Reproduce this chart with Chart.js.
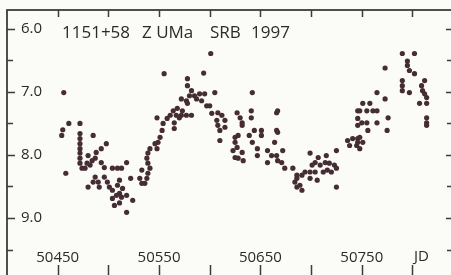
<!DOCTYPE html>
<html>
<head>
<meta charset="utf-8">
<script src="https://cdn.jsdelivr.net/npm/chart.js@4"></script>
<style>
  html, body { margin: 0; padding: 0; background: #fbfbf8; overflow: hidden; }
  canvas { display: block; }
</style>
</head>
<body>
<canvas id="lightCurve" width="456" height="284"></canvas>
<script>
// ---- data (JD, visual magnitude) ----
const titleParts = ["1151+58", "Z UMa", "SRB", "1997"];

const jd = [
  50456, 50461, 50472, 50455, 50454, 50472, 50472, 50472, 50472, 50472, 50472, 50472, 50474,
  50485, 50498, 50493, 50488, 50480, 50484, 50487, 50482, 50477, 50479, 50493, 50496, 50458,
  50504, 50487, 50490, 50485, 50480, 50491, 50496, 50499, 50501, 50504, 50508, 50504, 50506,
  50518, 50524, 50513, 50511, 50509, 50514, 50511, 50518, 50511, 50513, 50518, 50509,
  50522, 50531, 50533, 50533, 50536, 50538, 50539, 50541, 50539, 50538, 50539, 50541, 50548,
  50546, 50549, 50551, 50553, 50554, 50548, 50558, 50561, 50564, 50567, 50565, 50565, 50555,
  50601, 50594, 50578, 50578, 50582, 50580, 50572, 50577, 50585, 50590, 50595, 50605, 50587,
  50592, 50578, 50597, 50600, 50568, 50573, 50577, 50570, 50572, 50582, 50602, 50608, 50612,
  50607, 50615, 50608, 50615, 50610, 50627, 50610, 50625, 50625, 50627, 50623, 50625, 50628,
  50642, 50630, 50632, 50632, 50641, 50641, 50666, 50644, 50651, 50651, 50666, 50628, 50639,
  50642, 50664, 50632, 50633, 50647, 50647, 50657, 50661, 50666, 50667, 50672, 50657, 50671,
  50674, 50682, 50686, 50684, 50686, 50667, 50667,
  50746, 50746, 50746, 50741, 50746, 50736, 50738, 50745, 50725, 50715, 50707, 50699, 50704,
  50701, 50709, 50714, 50718, 50723, 50716, 50725, 50712, 50720, 50704, 50699, 50694, 50699,
  50691, 50706, 50689, 50725, 50691, 50686,
  50790, 50802, 50795, 50795, 50797, 50802, 50773, 50790, 50790, 50790, 50797, 50812, 50809,
  50810, 50812, 50814, 50814, 50807, 50814, 50814, 50814, 50765, 50773, 50751, 50758, 50748,
  50755, 50761, 50765, 50776, 50750, 50755, 50765, 50756, 50775, 50748, 50746, 50751, 50748
];

const mag = [
  7.01, 7.50, 7.50, 7.60, 7.69, 7.66, 7.74, 7.82, 7.90, 7.97, 8.05, 8.13, 8.21,
  7.69, 7.82, 7.90, 7.96, 8.01, 8.09, 8.05, 8.16, 8.21, 8.13, 8.12, 8.20, 8.29,
  8.21, 8.35, 8.43, 8.43, 8.51, 8.51, 8.35, 8.43, 8.51, 8.56, 8.64, 8.69, 8.80,
  8.91, 8.72, 8.67, 8.40, 8.48, 8.53, 8.61, 8.64, 8.76, 8.21, 8.12, 8.21,
  8.37, 8.37, 8.24, 8.45, 8.45, 8.37, 8.29, 8.21, 8.13, 8.05, 7.97, 7.90, 7.90,
  7.82, 7.80, 7.72, 7.61, 7.50, 7.41, 7.42, 7.37, 7.30, 7.37, 7.49, 7.58, 6.71,
  6.39, 6.70, 6.79, 6.90, 6.98, 7.06, 7.11, 7.14, 7.06, 7.03, 7.03, 7.01, 7.11,
  7.14, 7.18, 7.22, 7.22, 7.26, 7.30, 7.37, 7.41, 7.37, 7.37, 7.34, 7.33, 7.37,
  7.45, 7.45, 7.53, 7.56, 7.61, 7.33, 7.77, 7.72, 7.80, 7.88, 7.93, 8.04, 8.05,
  7.01, 7.41, 7.49, 7.53, 7.30, 7.41, 7.33, 7.61, 7.61, 7.69, 7.61, 7.69, 7.69,
  7.80, 7.80, 7.96, 8.09, 7.90, 8.01, 7.93, 8.01, 8.01, 8.09, 7.93, 8.12, 8.12,
  8.21, 8.21, 8.32, 8.43, 8.51, 7.30, 7.64,
  7.30, 7.42, 7.53, 7.74, 7.74, 7.77, 7.85, 7.85, 7.93, 8.01, 8.04, 7.97, 8.12,
  8.16, 8.16, 8.12, 8.13, 8.16, 8.24, 8.21, 8.27, 8.27, 8.27, 8.27, 8.27, 8.37,
  8.32, 8.40, 8.48, 8.51, 8.56, 8.37,
  6.39, 6.39, 6.51, 6.58, 6.66, 6.71, 6.62, 6.82, 6.90, 6.98, 7.01, 6.82, 6.90,
  6.98, 7.03, 7.09, 7.18, 7.18, 7.41, 7.49, 7.53, 7.01, 7.11, 7.18, 7.18, 7.30,
  7.30, 7.30, 7.30, 7.41, 7.49, 7.49, 7.49, 7.61, 7.61, 7.72, 7.80, 7.80, 7.90
];

// axis ticks
const xTicks = [50450, 50500, 50550, 50600, 50650, 50700, 50750, 50800];
const xLabels = [50450, 50550, 50650, 50750];
const yMajor = [6, 7, 8, 9];
const yMinor = [6.5, 7.5, 8.5, 9.5];

const INK = "#2e2a2b";
const DOT = "#452d33";
const FONT = "'Open Sans', sans-serif";

// frame, ticks and texts drawn inside the plot box
const framePlugin = {
  id: "frame",
  beforeDraw(chart) {
    const ctx = chart.ctx;
    ctx.save();
    ctx.fillStyle = "#fbfbf8";
    ctx.fillRect(0, 0, chart.width, chart.height);
    ctx.restore();
  },
  afterDraw(chart) {
    const { ctx, chartArea: a, scales } = chart;
    const x = scales.x, y = scales.y;
    ctx.save();
    ctx.strokeStyle = "#3f3b3c";
    ctx.lineWidth = 1.8;
    ctx.strokeRect(a.left, a.top, a.right - a.left, a.bottom - a.top);

    ctx.lineWidth = 1.5;
    ctx.beginPath();
    xTicks.forEach(v => {
      const px = Math.round(x.getPixelForValue(v)) + 0.5;
      ctx.moveTo(px, a.top); ctx.lineTo(px, a.top + 7);
      ctx.moveTo(px, a.bottom); ctx.lineTo(px, a.bottom - 11);
    });
    yMajor.forEach(v => {
      const py = Math.round(y.getPixelForValue(v)) + 0.5;
      ctx.moveTo(a.left, py); ctx.lineTo(a.left + 8, py);
      ctx.moveTo(a.right, py); ctx.lineTo(a.right - 7, py);
    });
    yMinor.forEach(v => {
      const py = Math.round(y.getPixelForValue(v)) + 0.5;
      ctx.moveTo(a.left, py); ctx.lineTo(a.left + 6, py);
      ctx.moveTo(a.right, py); ctx.lineTo(a.right - 6, py);
    });
    ctx.stroke();

    ctx.fillStyle = INK;
    ctx.font = "15px " + FONT;
    ctx.textBaseline = "middle";
    ctx.textAlign = "left";
    yMajor.forEach(v => {
      ctx.fillText(v.toFixed(1), a.left + 14, y.getPixelForValue(v));
    });
    ctx.textAlign = "center";
    xLabels.forEach(v => {
      ctx.fillText(String(v), x.getPixelForValue(v), 258);
    });
    ctx.textAlign = "left";
    ctx.fillText("JD", 414, 257);

    // title
    ctx.font = "17px " + FONT;
    const titleX = [62, 142, 210, 251];
    titleParts.forEach((t, i) => ctx.fillText(t, titleX[i], 33));
    ctx.restore();
  }
};

new Chart(document.getElementById("lightCurve"), {
  type: "scatter",
  data: {
    datasets: [{
      data: jd.map((d, i) => ({ x: d, y: mag[i] })),
      backgroundColor: DOT,
      borderWidth: 0,
      pointRadius: 2.6,
      pointHoverRadius: 2.6
    }]
  },
  options: {
    responsive: false,
    devicePixelRatio: 1,
    animation: false,
    events: [],
    layout: { padding: { left: 7, top: 10, right: 3, bottom: 8 } },
    plugins: { legend: { display: false }, tooltip: { enabled: false } },
    scales: {
      x: { type: "linear", min: 50400, max: 50840, display: false },
      y: { type: "linear", min: 5.7, max: 9.92, reverse: true, display: false }
    }
  },
  plugins: [framePlugin]
});
</script>
</body>
</html>
